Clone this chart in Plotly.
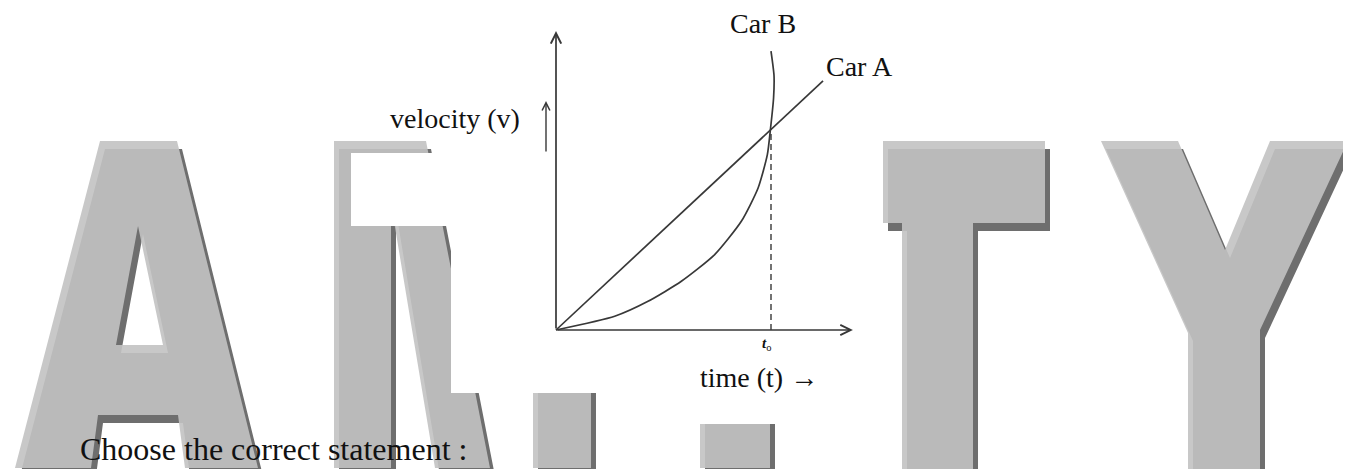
import plotly.graph_objects as go

# ---------------- data ----------------
car_a_t = [0.0, 1.242]
car_a_v = [0.0, 1.233]
car_b_t = [0.0, 0.273, 0.428, 0.583, 0.738, 0.862, 0.940, 0.983, 0.998, 1.012, 1.014, 1.000]
car_b_v = [0.0, 0.068, 0.142, 0.241, 0.373, 0.538, 0.703, 0.868, 1.000, 1.150, 1.260, 1.381]
t0_value = 1.0
v_at_t0 = 1.0
t_axis_end = 1.381
v_axis_end = 1.480
series_names = ["Car A", "Car B"]
x_label = "time (t) \u2192"
y_label = "velocity (v)"
t0_label = "<b><i>t</i></b><sub>o</sub>"
question = "Choose the correct statement :"

# ---------------- layout helpers ----------------
W, H = 1351, 469
ORIGIN_X, ORIGIN_Y = 548, 322      # pixel position of (0, 0)
PX_PER_T, PX_PER_V = 215, 202      # pixels per data unit

def px(x):
    return x / W

def py(y):
    return 1 - y / H

def path(points, holes=()):
    def ring(pts):
        return "M" + " L".join(f"{px(x):.5f},{py(y):.5f}" for x, y in pts) + " Z"
    return " ".join([ring(points)] + [ring(h) for h in holes])

def shift(pts, dx=5, dy=8):
    return [(x + dx, y + dy) for x, y in pts]

LINE = "#383838"
TEXT = "#111111"
FONT = "Liberation Serif"

fig = go.Figure()

fig.add_trace(go.Scatter(x=car_a_t, y=car_a_v, mode="lines", name=series_names[0],
                         line=dict(color=LINE, width=1.7), hoverinfo="skip"))
fig.add_trace(go.Scatter(x=car_b_t, y=car_b_v, mode="lines", name=series_names[1],
                         line=dict(color=LINE, width=1.7, shape="spline", smoothing=0.6),
                         hoverinfo="skip"))
fig.add_trace(go.Scatter(x=[t0_value, t0_value], y=[0, v_at_t0], mode="lines",
                         line=dict(color=LINE, width=1.4, dash="6px,4px"), hoverinfo="skip"))

# ---------------- watermark letters (decoration) ----------------
letters = [
    # A
    ([(7, 460), (92, 133), (169, 133), (250, 460), (177, 460), (170, 407), (90, 407), (83, 460)],
     [[(130, 218), (155, 337), (108, 337)]]),
    # N (partly hidden)
    ([(326, 133), (418, 133), (482, 460), (427, 460), (383, 195), (383, 460), (326, 460)], []),
    # dot
    ([(525, 300), (583, 300), (583, 460), (525, 460)], []),
    # hidden letter stem
    ([(692, 300), (762, 300), (762, 460), (692, 460)], []),
    # T
    ([(875, 133), (1037, 133), (1037, 215), (965, 215), (965, 461), (894, 461), (894, 215), (875, 215)], []),
    # Y
    ([(1093, 133), (1170, 133), (1217, 242), (1262, 133), (1340, 133), (1252, 322), (1252, 461),
      (1180, 461), (1180, 325)], []),
]

shapes = []
for outer, holes in letters:
    shapes.append(dict(type="path", xref="paper", yref="paper", layer="below",
                       path=path(shift(outer), [shift(h) for h in holes]),
                       fillcolor="rgb(110,110,110)", line=dict(width=0)))
for outer, holes in letters:
    shapes.append(dict(type="path", xref="paper", yref="paper", layer="below",
                       path=path(outer, holes), opacity=0.9,
                       fillcolor="rgb(194,194,194)", line=dict(width=0)))

# white boxes of the pasted diagram
for x0, y0, x1, y1 in [(443, 0, 870, 385), (343, 145, 443, 218), (600, 385, 840, 416)]:
    shapes.append(dict(type="rect", xref="paper", yref="paper", layer="below",
                       x0=px(x0), x1=px(x1), y0=py(y1), y1=py(y0),
                       fillcolor="white", line=dict(width=0)))

# ---------------- axes arrows ----------------
ann = []
def arrow(x, y, ax, ay, width=1.7, size=1.2):
    ann.append(dict(x=x, y=y, ax=ax, ay=ay, xref="x", yref="y", axref="x", ayref="y",
                    text="", showarrow=True, arrowhead=5, arrowsize=size, arrowwidth=width,
                    arrowcolor=LINE, standoff=0, startstandoff=0))

arrow(t_axis_end, 0, 0, 0)
arrow(0, v_axis_end, 0, 0)
arrow(-10 / PX_PER_T, (ORIGIN_Y - 93) / PX_PER_V, -10 / PX_PER_T, (ORIGIN_Y - 145) / PX_PER_V,
      width=1.4, size=1.1)

def label(text, x, y, size=28, xanchor="center"):
    ann.append(dict(text=text, x=px(x), y=py(y), xref="paper", yref="paper",
                    showarrow=False, xanchor=xanchor, yanchor="middle",
                    font=dict(family=FONT, size=size, color=TEXT)))

label(series_names[1], 754.5, 16)
label(series_names[0], 851, 58)
label(y_label, 446.5, 110)
label(x_label, 751, 369)
label(t0_label, 758, 336, size=15)
label(question, 70, 441, size=32, xanchor="left")

t_min = -ORIGIN_X / PX_PER_T
t_max = (W - ORIGIN_X) / PX_PER_T
v_min = -(H - ORIGIN_Y) / PX_PER_V
v_max = ORIGIN_Y / PX_PER_V

fig.update_layout(
    width=W, height=H, margin=dict(l=0, r=0, t=0, b=0),
    paper_bgcolor="white", plot_bgcolor="white", showlegend=False,
    xaxis=dict(range=[t_min, t_max], visible=False, fixedrange=True),
    yaxis=dict(range=[v_min, v_max], visible=False, fixedrange=True),
    shapes=shapes, annotations=ann,
)

fig.write_html("out.html", config={"displayModeBar": False})
